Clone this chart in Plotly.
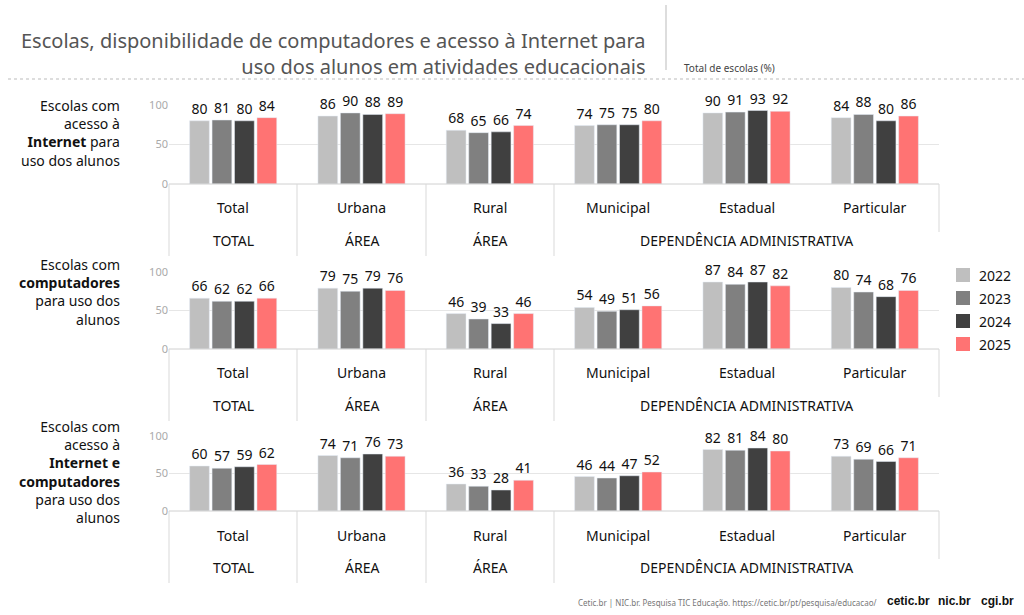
import plotly.graph_objects as go

categories = ['Total', 'Urbana', 'Rural', 'Municipal', 'Estadual', 'Particular']
years = ['2022', '2023', '2024', '2025']
colors = ['#bfbfbf', '#808080', '#404040', '#ff7373']

# values per panel, per year (in category order)
internet = {
    '2022': [80, 86, 68, 74, 90, 84],
    '2023': [81, 90, 65, 75, 91, 88],
    '2024': [80, 88, 66, 75, 93, 80],
    '2025': [84, 89, 74, 80, 92, 86],
}
computadores = {
    '2022': [66, 79, 46, 54, 87, 80],
    '2023': [62, 75, 39, 49, 84, 74],
    '2024': [62, 79, 33, 51, 87, 68],
    '2025': [66, 76, 46, 56, 82, 76],
}
ambos = {
    '2022': [60, 74, 36, 46, 82, 73],
    '2023': [57, 71, 33, 44, 81, 69],
    '2024': [59, 76, 28, 47, 84, 66],
    '2025': [62, 73, 41, 52, 80, 71],
}
panels = [internet, computadores, ambos]
row_labels = [
    'Escolas com<br>acesso à<br><b>Internet</b> para<br>uso dos alunos',
    'Escolas com<br><b>computadores</b><br>para uso dos<br>alunos',
    'Escolas com<br>acesso à<br><b>Internet e</b><br><b>computadores</b><br>para uso dos<br>alunos',
]
group_labels = ['TOTAL', 'ÁREA', 'ÁREA']
dep_label = 'DEPENDÊNCIA ADMINISTRATIVA'
logos = ['cetic.br', 'nic.br', 'cgi.br']

W, H = 1024, 615
def py(p):
    return 1 - p / H
def px(p):
    return p / W

# pixel positions of the 0 and 100 lines for each panel
panel_px = [(184, 105), (349, 272), (511, 436)]
row_label_y = [133, 292, 472]

fig = go.Figure()
FONT = 'Noto Sans'
x0, x1 = 169, 939

def note(x, y, text, size, color='#111', xanchor='center', **kw):
    fig.add_annotation(x=x, y=y, text=text, showarrow=False, xanchor=xanchor,
                       yanchor='middle', font=dict(size=size, color=color), **kw)

for i, data in enumerate(panels):
    n = '' if i == 0 else str(i + 1)
    for y, c in zip(years, colors):
        fig.add_trace(go.Bar(
            x=list(range(len(categories))), y=data[y], name=y,
            marker_color=c, text=data[y], textposition='outside',
            textfont=dict(size=14, color='#111'), cliponaxis=False,
            xaxis='x' + n, yaxis='y' + n, showlegend=False,
            hoverinfo='skip',
        ))
    bot, top = panel_px[i]
    fig.update_layout({
        'xaxis' + n: dict(domain=[px(x0), px(x1)], range=[-0.5, 5.5],
                          showticklabels=False, showgrid=False, zeroline=False,
                          anchor='y' + n, fixedrange=True, automargin=False),
        'yaxis' + n: dict(domain=[py(bot), py(top)], range=[0, 100],
                          tickvals=[0, 50, 100], gridcolor='#e6e6e6',
                          tickfont=dict(size=11, color='#aaaaaa'),
                          zeroline=False, showline=False, anchor='x' + n,
                          ticklen=0, ticks='', automargin=False),
    })
    xr = 'x' + n
    fig.add_shape(type='line', xref='paper', yref='paper', x0=px(x0), x1=px(x1),
                  y0=py(bot), y1=py(bot), line=dict(color='#d0d0d0', width=1))
    for sx, ylen in [(x0, 72), (297, 72), (426, 72), (554, 72), (x1, 48)]:
        fig.add_shape(type='line', xref='paper', yref='paper', x0=px(sx), x1=px(sx),
                      y0=py(bot), y1=py(bot + ylen), line=dict(color='#d9d9d9', width=1))
    for j, cat in enumerate(categories):
        note(j, py(bot + 24), cat, 14, xref=xr, yref='paper')
    for j, g in enumerate(group_labels):
        note(j, py(bot + 56), g, 14, xref=xr, yref='paper')
    note(4, py(bot + 56), dep_label, 14, xref=xr, yref='paper')
    note(px(122), py(row_label_y[i]), row_labels[i], 14, xanchor='right',
         align='right', xref='paper', yref='paper')

# legend (drawn by hand so it stays inside the page)
for k, (y, c) in enumerate(zip(years, colors)):
    cy = 275 + 23 * k
    fig.add_shape(type='rect', xref='paper', yref='paper', x0=px(956), x1=px(970),
                  y0=py(cy + 7), y1=py(cy - 7), fillcolor=c, line=dict(width=0))
    note(px(977), py(cy), y, 14, xanchor='left', xref='paper', yref='paper')

# title block
note(px(648), py(53),
     'Escolas, disponibilidade de computadores e acesso à Internet para<br>uso dos alunos em atividades educacionais',
     20, color='#555555', xanchor='right', align='right', xref='paper', yref='paper')
fig.add_shape(type='line', xref='paper', yref='paper', x0=px(666), x1=px(666),
              y0=py(5), y1=py(70), line=dict(color='#bbbbbb', width=1))
note(px(682), py(68), 'Total de escolas (%)', 10, color='#444', xanchor='left',
     xref='paper', yref='paper')
fig.add_shape(type='line', xref='paper', yref='paper', x0=px(8), x1=1,
              y0=py(79), y1=py(79), line=dict(color='#bbbbbb', width=1, dash='dot'))

# footer
note(px(878), py(602),
     'Cetic.br | NIC.br. Pesquisa TIC Educação. https://cetic.br/pt/pesquisa/educacao/',
     8, color='#777', xanchor='right', xref='paper', yref='paper')
for rx, t in zip([932, 973, 1016], logos):
    fig.add_annotation(x=px(rx), y=py(601), xref='paper', yref='paper', xanchor='right',
                       yanchor='middle', showarrow=False, text='<b>' + t + '</b>',
                       font=dict(size=12, color='#111', family='Liberation Sans'))

fig.update_layout(
    width=W, height=H, margin=dict(l=0, r=0, t=0, b=0, autoexpand=False),
    paper_bgcolor='white', plot_bgcolor='white',
    font=dict(family=FONT),
    barmode='group', bargap=0.3, bargroupgap=0.12,
    showlegend=False,
)

fig.write_html('out.html', config={'displayModeBar': False},
               post_script="document.body.style.margin='0';")
